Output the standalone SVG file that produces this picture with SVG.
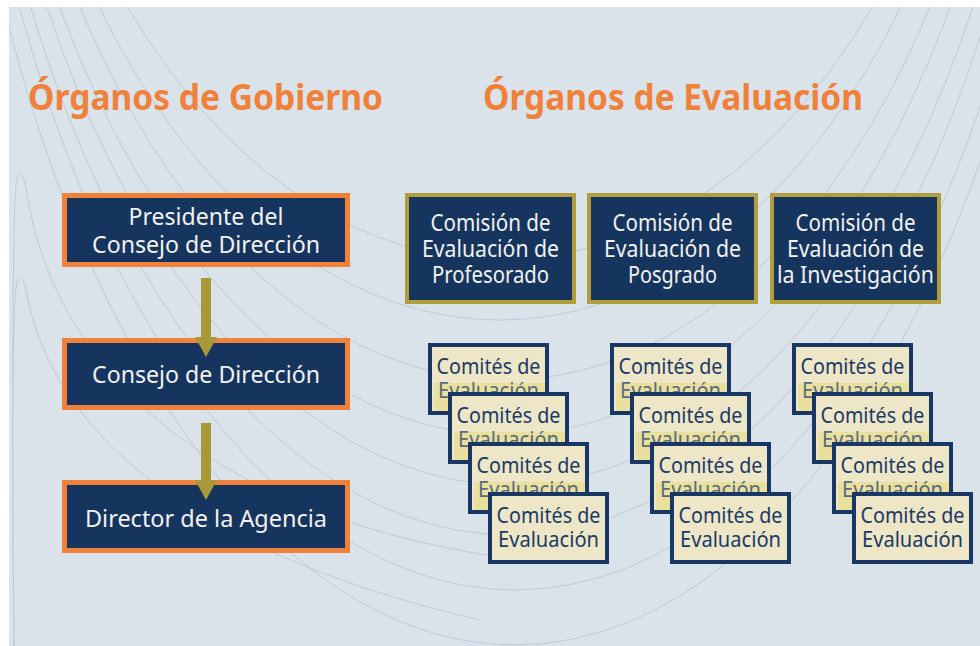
<svg xmlns="http://www.w3.org/2000/svg" width="980" height="646" viewBox="0 0 980 646">
<defs>
<style>
.bg{fill:#dae2ea}
.deco{fill:none;stroke:#bcc8d4;stroke-width:0.9}
.title{font-family:"Noto Sans","Liberation Sans",sans-serif;font-weight:700;font-size:35px;fill:#f0813a}
.gov rect{fill:#15355f;stroke:#f0813a;stroke-width:5}
.eval rect{fill:#15355f;stroke:#b19d3c;stroke-width:4}
.wt{font-family:"Noto Sans","Liberation Sans",sans-serif;font-size:23px;fill:#f3f1ec;text-anchor:middle}
.card .frame{fill:#ede6c7;stroke:#183764;stroke-width:4}
.card .hl{fill:#e8e09c}
.ct{font-family:"Noto Sans","Liberation Sans",sans-serif;font-size:22px;fill:#1c3a66;text-anchor:middle}
.ct.dim{fill:#5b6a80}
.arrow{fill:#a8983a}
</style>
<clipPath id="clipbg"><rect x="9" y="7" width="971" height="639"/></clipPath>
</defs>

<rect x="0" y="0" width="980" height="646" fill="#ffffff"/>
<rect class="bg" x="9" y="7" width="971" height="639"/>

<g id="background-lines" clip-path="url(#clipbg)">
<ellipse class="deco" cx="500" cy="-500" rx="500" ry="760"/>
<ellipse class="deco" cx="500" cy="-500" rx="510" ry="820"/>
<ellipse class="deco" cx="505" cy="-500" rx="520" ry="880"/>
<ellipse class="deco" cx="505" cy="-500" rx="530" ry="935"/>
<ellipse class="deco" cx="510" cy="-500" rx="540" ry="985"/>
<ellipse class="deco" cx="510" cy="-500" rx="550" ry="1035"/>
<ellipse class="deco" cx="515" cy="-500" rx="560" ry="1090"/>
<ellipse class="deco" cx="515" cy="-500" rx="570" ry="1145"/>
<path class="deco" d="M 14 646 C 12 420 12 200 17 178 C 20 168 24 172 28 200 C 60 380 220 520 520 560"/>
<path class="deco" d="M 14 646 C 12 480 12 300 17 282 C 20 272 24 276 28 300 C 60 450 220 560 480 620"/>
</g>

<text class="title" x="28" y="110" textLength="355" lengthAdjust="spacingAndGlyphs">Órganos de Gobierno</text>
<text class="title" x="483" y="110" textLength="380" lengthAdjust="spacingAndGlyphs">Órganos de Evaluación</text>

<g id="presidente" class="gov">
<rect x="64.5" y="195.5" width="283" height="69"/>
<text class="wt" x="206" y="225" textLength="155" lengthAdjust="spacingAndGlyphs">Presidente del</text>
<text class="wt" x="206" y="253" textLength="228" lengthAdjust="spacingAndGlyphs">Consejo de Dirección</text>
</g>
<g id="consejo" class="gov">
<rect x="64.5" y="340.5" width="283" height="67"/>
<text class="wt" x="206" y="383" textLength="228" lengthAdjust="spacingAndGlyphs">Consejo de Dirección</text>
</g>
<g id="director" class="gov">
<rect x="64.5" y="482.5" width="283" height="68"/>
<text class="wt" x="206" y="527" textLength="242" lengthAdjust="spacingAndGlyphs">Director de la Agencia</text>
</g>

<g id="connectors">
<g id="arrow-presidente-consejo" class="arrow">
<rect x="201" y="278" width="10" height="60"/>
<polygon points="195,337 217,337 206,357"/>
</g>
<g id="arrow-consejo-director" class="arrow">
<rect x="201" y="423" width="10" height="58"/>
<polygon points="195,480 217,480 206,500"/>
</g>
</g>

<g id="comision-profesorado" class="eval">
<rect x="407" y="195" width="167" height="107"/>
<text class="wt" x="490.5" y="231" textLength="120" lengthAdjust="spacingAndGlyphs">Comisión de</text>
<text class="wt" x="490.5" y="257" textLength="137" lengthAdjust="spacingAndGlyphs">Evaluación de</text>
<text class="wt" x="490.5" y="283" textLength="117" lengthAdjust="spacingAndGlyphs">Profesorado</text>
</g>
<g id="comision-posgrado" class="eval">
<rect x="589" y="195" width="167" height="107"/>
<text class="wt" x="672.5" y="231" textLength="120" lengthAdjust="spacingAndGlyphs">Comisión de</text>
<text class="wt" x="672.5" y="257" textLength="137" lengthAdjust="spacingAndGlyphs">Evaluación de</text>
<text class="wt" x="672.5" y="283" textLength="89" lengthAdjust="spacingAndGlyphs">Posgrado</text>
</g>
<g id="comision-investigacion" class="eval">
<rect x="772" y="195" width="167" height="107"/>
<text class="wt" x="855.5" y="231" textLength="120" lengthAdjust="spacingAndGlyphs">Comisión de</text>
<text class="wt" x="855.5" y="257" textLength="137" lengthAdjust="spacingAndGlyphs">Evaluación de</text>
<text class="wt" x="855.5" y="283" textLength="157" lengthAdjust="spacingAndGlyphs">la Investigación</text>
</g>

<!-- Stack 1 -->
<g id="comite-1-1" class="card"><rect class="frame" x="430" y="345" width="117" height="68"/><rect class="hl" x="434" y="383" width="111" height="28"/><text class="ct" x="488.5" y="374" textLength="104" lengthAdjust="spacingAndGlyphs">Comités de</text><text class="ct dim" x="488.5" y="398" textLength="101" lengthAdjust="spacingAndGlyphs">Evaluación</text></g>
<g id="comite-1-2" class="card"><rect class="frame" x="450" y="394" width="117" height="68"/><rect class="hl" x="454" y="432" width="111" height="28"/><text class="ct" x="508.5" y="423" textLength="104" lengthAdjust="spacingAndGlyphs">Comités de</text><text class="ct dim" x="508.5" y="447" textLength="101" lengthAdjust="spacingAndGlyphs">Evaluación</text></g>
<g id="comite-1-3" class="card"><rect class="frame" x="470" y="444" width="117" height="68"/><rect class="hl" x="474" y="482" width="111" height="28"/><text class="ct" x="528.5" y="473" textLength="104" lengthAdjust="spacingAndGlyphs">Comités de</text><text class="ct dim" x="528.5" y="497" textLength="101" lengthAdjust="spacingAndGlyphs">Evaluación</text></g>
<g id="comite-1-4" class="card"><rect class="frame" x="490" y="494" width="117" height="68"/><text class="ct" x="548.5" y="523" textLength="104" lengthAdjust="spacingAndGlyphs">Comités de</text><text class="ct" x="548.5" y="547" textLength="101" lengthAdjust="spacingAndGlyphs">Evaluación</text></g>

<!-- Stack 2 -->
<g id="comite-2-1" class="card"><rect class="frame" x="612" y="345" width="117" height="68"/><rect class="hl" x="616" y="383" width="111" height="28"/><text class="ct" x="670.5" y="374" textLength="104" lengthAdjust="spacingAndGlyphs">Comités de</text><text class="ct dim" x="670.5" y="398" textLength="101" lengthAdjust="spacingAndGlyphs">Evaluación</text></g>
<g id="comite-2-2" class="card"><rect class="frame" x="632" y="394" width="117" height="68"/><rect class="hl" x="636" y="432" width="111" height="28"/><text class="ct" x="690.5" y="423" textLength="104" lengthAdjust="spacingAndGlyphs">Comités de</text><text class="ct dim" x="690.5" y="447" textLength="101" lengthAdjust="spacingAndGlyphs">Evaluación</text></g>
<g id="comite-2-3" class="card"><rect class="frame" x="652" y="444" width="117" height="68"/><rect class="hl" x="656" y="482" width="111" height="28"/><text class="ct" x="710.5" y="473" textLength="104" lengthAdjust="spacingAndGlyphs">Comités de</text><text class="ct dim" x="710.5" y="497" textLength="101" lengthAdjust="spacingAndGlyphs">Evaluación</text></g>
<g id="comite-2-4" class="card"><rect class="frame" x="672" y="494" width="117" height="68"/><text class="ct" x="730.5" y="523" textLength="104" lengthAdjust="spacingAndGlyphs">Comités de</text><text class="ct" x="730.5" y="547" textLength="101" lengthAdjust="spacingAndGlyphs">Evaluación</text></g>

<!-- Stack 3 -->
<g id="comite-3-1" class="card"><rect class="frame" x="794" y="345" width="117" height="68"/><rect class="hl" x="798" y="383" width="111" height="28"/><text class="ct" x="852.5" y="374" textLength="104" lengthAdjust="spacingAndGlyphs">Comités de</text><text class="ct dim" x="852.5" y="398" textLength="101" lengthAdjust="spacingAndGlyphs">Evaluación</text></g>
<g id="comite-3-2" class="card"><rect class="frame" x="814" y="394" width="117" height="68"/><rect class="hl" x="818" y="432" width="111" height="28"/><text class="ct" x="872.5" y="423" textLength="104" lengthAdjust="spacingAndGlyphs">Comités de</text><text class="ct dim" x="872.5" y="447" textLength="101" lengthAdjust="spacingAndGlyphs">Evaluación</text></g>
<g id="comite-3-3" class="card"><rect class="frame" x="834" y="444" width="117" height="68"/><rect class="hl" x="838" y="482" width="111" height="28"/><text class="ct" x="892.5" y="473" textLength="104" lengthAdjust="spacingAndGlyphs">Comités de</text><text class="ct dim" x="892.5" y="497" textLength="101" lengthAdjust="spacingAndGlyphs">Evaluación</text></g>
<g id="comite-3-4" class="card"><rect class="frame" x="854" y="494" width="117" height="68"/><text class="ct" x="912.5" y="523" textLength="104" lengthAdjust="spacingAndGlyphs">Comités de</text><text class="ct" x="912.5" y="547" textLength="101" lengthAdjust="spacingAndGlyphs">Evaluación</text></g>
</svg>
